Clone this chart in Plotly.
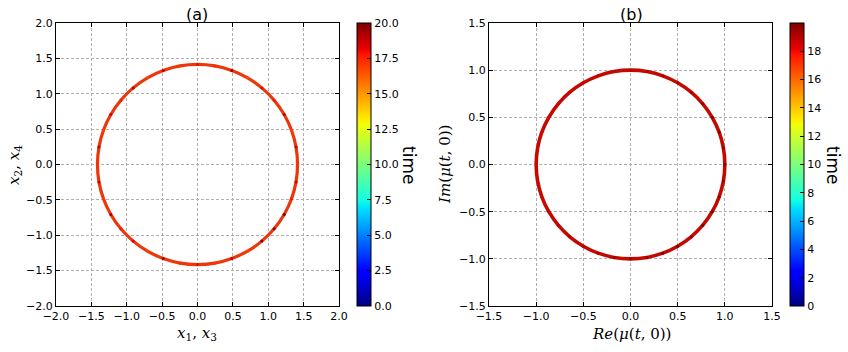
import plotly.graph_objs as go

# panel (a): x1,x3 vs x2,x4 (points every 10 degrees round the circle)
xa = [1.414, 1.393, 1.329, 1.225, 1.083, 0.909, 0.707, 0.484, 0.246, 0.0,
      -0.246, -0.484, -0.707, -0.909, -1.083, -1.225, -1.329, -1.393, -1.414,
      -1.393, -1.329, -1.225, -1.083, -0.909, -0.707, -0.484, -0.246, 0.0,
      0.246, 0.484, 0.707, 0.909, 1.083, 1.225, 1.329, 1.393, 1.414]
ya = [0.0, 0.246, 0.484, 0.707, 0.909, 1.083, 1.225, 1.329, 1.393, 1.414,
      1.393, 1.329, 1.225, 1.083, 0.909, 0.707, 0.484, 0.246, 0.0,
      -0.246, -0.484, -0.707, -0.909, -1.083, -1.225, -1.329, -1.393, -1.414,
      -1.393, -1.329, -1.225, -1.083, -0.909, -0.707, -0.484, -0.246, 0.0]
ta = [17.2, 18.6, 16.9, 19.1, 17.8, 18.3, 16.7, 19.4, 17.5, 18.0,
      17.1, 18.8, 16.8, 19.2, 17.6, 18.4, 16.9, 19.0, 17.3,
      18.5, 17.0, 19.3, 17.7, 18.2, 16.8, 19.5, 17.4, 18.1,
      17.2, 18.7, 16.9, 19.6, 19.8, 19.9, 17.8, 18.6, 17.2]

# panel (b): Re(mu(t,0)) vs Im(mu(t,0))
xb = [1.0, 0.985, 0.94, 0.866, 0.766, 0.643, 0.5, 0.342, 0.174, 0.0,
      -0.174, -0.342, -0.5, -0.643, -0.766, -0.866, -0.94, -0.985, -1.0,
      -0.985, -0.94, -0.866, -0.766, -0.643, -0.5, -0.342, -0.174, 0.0,
      0.174, 0.342, 0.5, 0.643, 0.766, 0.866, 0.94, 0.985, 1.0]
yb = [0.0, 0.174, 0.342, 0.5, 0.643, 0.766, 0.866, 0.94, 0.985, 1.0,
      0.985, 0.94, 0.866, 0.766, 0.643, 0.5, 0.342, 0.174, 0.0,
      -0.174, -0.342, -0.5, -0.643, -0.766, -0.866, -0.94, -0.985, -1.0,
      -0.985, -0.94, -0.866, -0.766, -0.643, -0.5, -0.342, -0.174, 0.0]
tb = [19.5, 19.7, 19.8, 19.9, 19.6, 19.4, 19.2, 19.0, 18.9, 18.8,
      18.7, 18.6, 18.5, 18.5, 18.4, 18.4, 18.3, 18.3, 18.3,
      18.4, 18.5, 18.6, 18.8, 19.0, 19.1, 19.3, 19.4, 19.5,
      19.6, 19.7, 19.8, 19.9, 19.98, 19.9, 19.8, 19.6, 19.5]

ticks_a = [-2.0, -1.5, -1.0, -0.5, 0.0, 0.5, 1.0, 1.5, 2.0]
ticks_b = [-1.5, -1.0, -0.5, 0.0, 0.5, 1.0, 1.5]
cb_ticks_a = [0.0, 2.5, 5.0, 7.5, 10.0, 12.5, 15.0, 17.5, 20.0]
cb_ticks_b = [0, 2, 4, 6, 8, 10, 12, 14, 16, 18]

# matplotlib-like jet colormap
jet = [[0.0, 'rgb(0,0,127)'], [0.11, 'rgb(0,0,255)'], [0.125, 'rgb(0,0,255)'],
       [0.34, 'rgb(0,219,255)'], [0.35, 'rgb(0,229,247)'], [0.375, 'rgb(20,255,226)'],
       [0.64, 'rgb(239,255,8)'], [0.65, 'rgb(247,245,0)'], [0.66, 'rgb(255,236,0)'],
       [0.89, 'rgb(255,19,0)'], [0.91, 'rgb(232,0,0)'], [1.0, 'rgb(127,0,0)']]

W, H = 848.0, 352.0


def px(x):
    return x / W


def py(y):
    return 1 - y / H


tickfont = dict(family='DejaVu Sans', size=11, color='black')
labfont = dict(family='DejaVu Serif', size=15, color='black')

trace0 = go.Scatter(x=xa, y=ya, mode='lines', line=dict(color='rgb(235,55,10)', width=3.2,
                    shape='spline'), xaxis='x', yaxis='y', showlegend=False, hoverinfo='skip')
trace1 = go.Scatter(x=xa, y=ya, mode='markers', xaxis='x', yaxis='y', showlegend=False,
                    marker=dict(size=3, color=ta, coloraxis='coloraxis'))
trace2 = go.Scatter(x=xb, y=yb, mode='lines', line=dict(color='rgb(195,10,0)', width=3.6,
                    shape='spline'), xaxis='x2', yaxis='y2', showlegend=False, hoverinfo='skip')
trace3 = go.Scatter(x=xb, y=yb, mode='markers', xaxis='x2', yaxis='y2', showlegend=False,
                    marker=dict(size=3, color=tb, coloraxis='coloraxis2'))


def axis(domain, rng, ticks, anchor):
    return dict(domain=domain, range=rng, tickvals=ticks, ticktext=[('%.1f' % v).replace('-', '\u2212') for v in ticks],
                anchor=anchor, showline=True, linecolor='black', linewidth=1, mirror='allticks',
                ticks='inside', ticklen=4, tickcolor='black', tickfont=tickfont, automargin=False,
                showgrid=True, gridcolor='#b0b0b0', griddash='3px,2px', gridwidth=1, zeroline=False)


def cbar(x, ticks, fmt):
    return dict(x=px(x), xanchor='left', xref='paper', y=py(164.5), yanchor='middle', len=283, lenmode='pixels',
                thickness=14, thicknessmode='pixels', outlinecolor='black', outlinewidth=1,
                tickvals=ticks, ticktext=[fmt % v for v in ticks], ticks='inside', ticklen=4,
                tickcolor='black', tickfont=tickfont, xpad=0, ypad=0)


layout = go.Layout(
    width=848, height=352, margin=dict(l=0, r=0, t=0, b=0, autoexpand=False),
    paper_bgcolor='white', plot_bgcolor='white',
    xaxis=axis([px(56), px(339)], [-2, 2], ticks_a, 'y'),
    yaxis=axis([py(306), py(23)], [-2, 2], ticks_a, 'x'),
    xaxis2=axis([px(489), px(772)], [-1.5, 1.5], ticks_b, 'y2'),
    yaxis2=axis([py(306), py(23)], [-1.5, 1.5], ticks_b, 'x2'),
    coloraxis=dict(colorscale=jet, cmin=0, cmax=20, colorbar=cbar(357, cb_ticks_a, '%.1f')),
    coloraxis2=dict(colorscale=jet, cmin=0, cmax=19.98, colorbar=cbar(790, cb_ticks_b, '%d')),
    annotations=[
        dict(text='(a)', x=197, y=14, font=dict(family='DejaVu Sans', size=16, color='black')),
        dict(text='(b)', x=631, y=14, font=dict(family='DejaVu Sans', size=16, color='black')),
        dict(text='<i>x</i><sub>1</sub>, <i>x</i><sub>3</sub>', x=197, y=333, font=labfont),
        dict(text='<i>x</i><sub>2</sub>, <i>x</i><sub>4</sub>', x=14, y=165, textangle=-90, font=labfont),
        dict(text='<i>Re</i>(<i>\u03bc</i>(<i>t</i>, 0))', x=631, y=334, font=labfont),
        dict(text='<i>Im</i>(<i>\u03bc</i>(<i>t</i>, 0))', x=445, y=165, textangle=-90, font=labfont),
        dict(text='time', x=409, y=165, textangle=90, font=dict(family='DejaVu Sans', size=17, color='black')),
        dict(text='time', x=833, y=165, textangle=90, font=dict(family='DejaVu Sans', size=17, color='black')),
    ],
)

# convert the pixel positions of the annotations to paper coordinates
for a in layout.annotations:
    a.x = px(a.x)
    a.y = py(a.y)
    a.xref = 'paper'
    a.yref = 'paper'
    a.showarrow = False
    a.xanchor = 'center'
    a.yanchor = 'middle'

fig = go.Figure(data=[trace0, trace1, trace2, trace3], layout=layout)
fig.write_html("out.html", config={'displayModeBar': False},
               post_script="document.body.style.margin='0';")
